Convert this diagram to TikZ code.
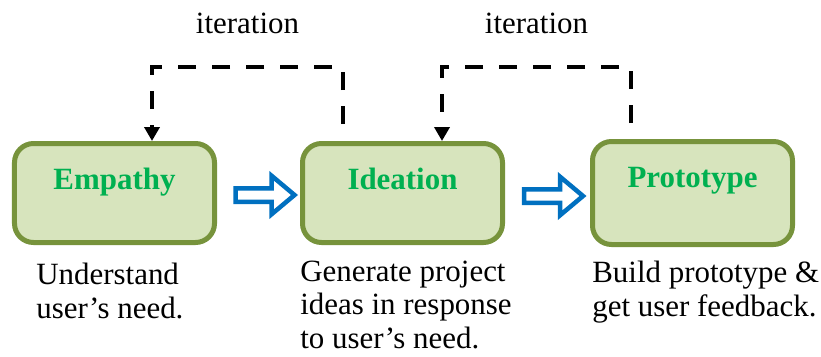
\documentclass[tikz,border=0pt]{standalone}
\usepackage{fontspec}
\setmainfont{Liberation Serif}
\usetikzlibrary{arrows.meta, positioning, shapes.arrows, calc}
\definecolor{dtgreen}{HTML}{77933C}
\definecolor{dtfill}{HTML}{D7E4BD}
\definecolor{dttitle}{HTML}{00B050}
\definecolor{dtblue}{HTML}{0070C0}

\begin{document}
\begin{tikzpicture}[
  every node/.style={font=\fontsize{17.6}{18.8}\selectfont},
  stage/.style={draw=dtgreen, fill=dtfill, line width=0.1cm, rounded corners=0.38cm,
                minimum width=4.0cm, minimum height=1.98cm},
  stagetitle/.style={font=\fontsize{17.6}{18.8}\selectfont\bfseries, color=dttitle, anchor=base},
  desc/.style={align=left, anchor=base west, inner sep=0pt},
  flow/.style={single arrow, draw=dtblue, fill=white, line width=0.09cm,
               minimum height=1.18cm, minimum width=0.6cm, inner sep=0.09cm,
               single arrow tip angle=80},
  iterloop/.style={-{Triangle[width=0.3cm,length=0.28cm]}, line width=0.08cm,
                   dash pattern=on 0.36cm off 0.32cm},
  itlabel/.style={anchor=base}
]
\useasboundingbox (0,0) rectangle (16.42,-7.12);

% Stages
\node[stage] (emp) at (2.29,-3.86) {};
\node[stage, right=1.66cm of emp] (idea) {};
\node[stage, right=1.7cm of idea, minimum height=2.06cm] (proto) {};

% Stage titles
\node[stagetitle] (empt) at ([yshift=-0.96cm]emp.north) {Empathy};
\node[stagetitle] (ideat) at ([yshift=-0.96cm]idea.north) {Ideation};
\node[stagetitle] (protot) at ([yshift=-0.96cm]proto.north) {Prototype};

% Flow arrows
\node[flow, xshift=0.05cm, yshift=-0.04cm] (flowa) at ($(emp.east)!0.5!(idea.west)$) {};
\node[flow, xshift=0.04cm, yshift=-0.06cm] (flowb) at ($(idea.east)!0.5!(proto.west)$) {};

% Iteration loops
\draw[iterloop] ([xshift=-1.19cm, yshift=0.34cm]idea.north) -- ++(0,1.14cm)
  -| node[pos=0.25, itlabel, yshift=0.68cm] (ita) {iteration} ([xshift=0.75cm]emp.north);
\draw[iterloop] ([xshift=-1.23cm, yshift=0.32cm]proto.north) -- ++(0,1.12cm)
  -| node[pos=0.25, itlabel, yshift=0.68cm] (itb) {iteration} ([xshift=0.79cm]idea.north);

% Descriptions (base = last line)
\node[desc] (empd) at ([xshift=0.48cm, yshift=-1.46cm]emp.south west) {Understand\\user's need.};
\node[desc] (idead) at ([yshift=-2.06cm]idea.south west) {Generate project\\ideas in response\\to user's need.};
\node[desc] (protod) at ([xshift=0.04cm, yshift=-1.38cm]proto.south west) {Build prototype \&\\get user feedback.};

\end{tikzpicture}
\end{document}
